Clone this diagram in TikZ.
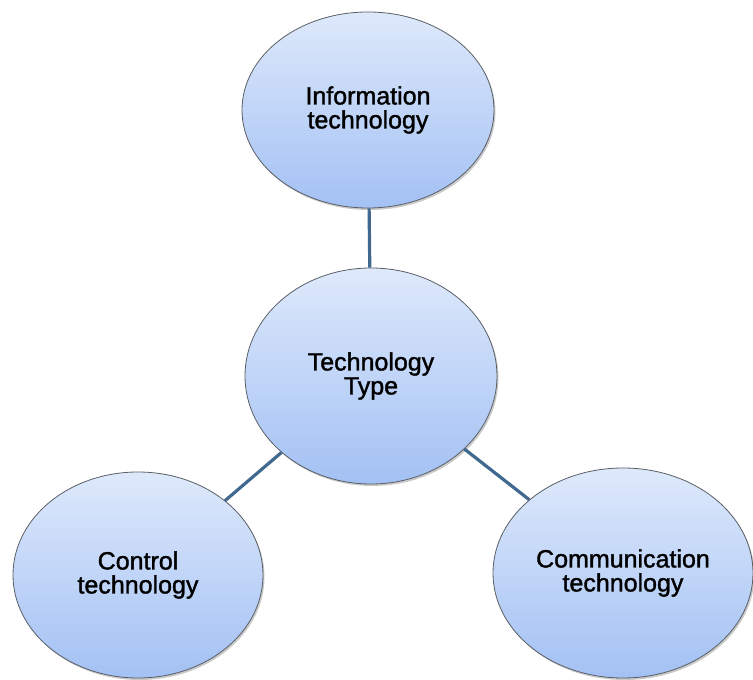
\documentclass[tikz,border=0pt]{standalone}
\usepackage{fontspec}
\setmainfont{Liberation Sans}
\newfontfamily\bubblefont{Liberation Sans}[FakeBold=1.4]
\usetikzlibrary{shapes.geometric,shadows}
\definecolor{topfill}{HTML}{DEE9FB}
\definecolor{botfill}{HTML}{A3C1F4}
\definecolor{linkcol}{HTML}{41698F}
\definecolor{edgecol}{HTML}{5A5F66}
\tikzset{
  bubble/.style={ellipse, draw=edgecol, line width=0.8pt, inner sep=0pt,
    top color=topfill, bottom color=botfill, align=center,
    text=black, font=\bubblefont\fontsize{25}{24}\selectfont,
    drop shadow={shadow xshift=1.5pt, shadow yshift=-2pt, opacity=0.35, fill=black!60}},
  link/.style={draw=linkcol, line width=3.2pt}
}
\begin{document}
\begin{tikzpicture}[x=1pt,y=1pt]
\useasboundingbox (0,0) rectangle (753,680);
\node[bubble, minimum width=252pt, minimum height=196pt] (info) at (368,570) {Information\\technology};
\node[bubble, minimum width=252pt, minimum height=216pt] (type) at (371,304) {Technology\\Type};
\node[bubble, minimum width=250pt, minimum height=206pt] (ctrl) at (138,105) {Control\\technology};
\node[bubble, minimum width=260pt, minimum height=210pt] (comm) at (623,107) {Communication\\technology};
\draw[link] (info) -- (type);
\draw[link] (type) -- (ctrl);
\draw[link] (type) -- (comm);
\end{tikzpicture}
\end{document}
